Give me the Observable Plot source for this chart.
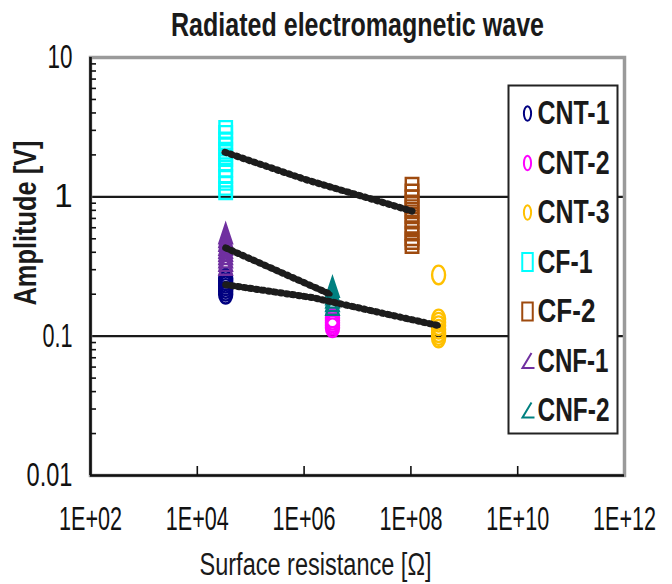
<!DOCTYPE html>
<html>
<head>
<meta charset="utf-8">
<script src="https://cdn.jsdelivr.net/npm/d3@7"></script>
<script src="https://cdn.jsdelivr.net/npm/@observablehq/plot@0.6"></script>
<style>
  html, body { margin: 0; padding: 0; background: white; }
</style>
</head>
<body>
<div id="chart"></div>
<script>
// ---------- data ----------
const seriesNames = ["CNT-1", "CNT-2", "CNT-3", "CF-1", "CF-2", "CNF-1", "CNF-2"];
const seriesColors = ["#000080", "#FF00FF", "#FFC000", "#00FFFF", "#9E4A0E", "#7030A0", "#008080"];
const seriesShapes = ["circle", "circle", "circle", "square", "square", "triangle", "triangle"];
const resistance = [3.4e4, 3.4e6, 3.3e8, 3.4e4, 1.05e8, 3.4e4, 3.4e6];

const cnt1 = [0.26, 0.25, 0.24, 0.23, 0.22, 0.21, 0.20];
const cnt2 = [0.135, 0.13, 0.125, 0.12, 0.115];
const cnt3 = [0.275, 0.133, 0.126, 0.119, 0.112, 0.106, 0.101, 0.097];
const cf1 = [3.15, 2.9, 2.6, 2.4, 2.2, 2.0, 1.85, 1.7, 1.55, 1.4, 1.25, 1.15, 1.07];
const cf2 = [1.23, 1.1, 1.0, 0.92, 0.85, 0.78, 0.72, 0.66, 0.6, 0.55, 0.5, 0.47, 0.44];
const cnf1 = [0.52, 0.49, 0.46, 0.43, 0.41, 0.39, 0.37, 0.35, 0.33, 0.31];
const cnf2 = [0.215, 0.2, 0.19, 0.18, 0.17, 0.16];
const seriesValues = [cnt1, cnt2, cnt3, cf1, cf2, cnf1, cnf2];

// trend lines
const trendCF_x = [3.3e4, 1.07e6, 1.05e8];
const trendCF_y = [2.09, 1.33, 0.79];
const trendCNF_x = [3.4e4, 3.1e6];
const trendCNF_y = [0.43, 0.20];
const trendCNT_x = [3.4e4, 1.45e6, 3.3e8];
const trendCNT_y = [0.234, 0.189, 0.119];

const xTicks = [1e2, 1e4, 1e6, 1e8, 1e10, 1e12];
const yTicks = [0.01, 0.1, 1, 10];
const yTickLabels = ["0.01", "0.1", "1", "10"];
const yMinorTicks = [0.02,0.03,0.04,0.05,0.06,0.07,0.08,0.09,0.2,0.3,0.4,0.5,0.6,0.7,0.8,0.9,2,3,4,5,6,7,8,9];
const gridValues = [0.1, 1];

const titleText = "Radiated electromagnetic wave";
const xTitle = "Surface resistance [\u03A9]";
const yTitle = "Amplitude [V]";

// ---------- tables ----------
const points = seriesNames.flatMap((s, i) =>
  seriesValues[i].map(v => ({series: s, shape: seriesShapes[i], r: resistance[i], v})));
const trends = [
  ...trendCF_x.map((x, i) => ({g: "CF", x, y: trendCF_y[i]})),
  ...trendCNF_x.map((x, i) => ({g: "CNF", x, y: trendCNF_y[i]})),
  ...trendCNT_x.map((x, i) => ({g: "CNT", x, y: trendCNT_y[i]}))
];

// ---------- symbols ----------
function ellipseSym(rx, ry) {
  const k = 0.5523;
  return {draw(c) {
    c.moveTo(rx, 0);
    c.bezierCurveTo(rx, ry * k, rx * k, ry, 0, ry);
    c.bezierCurveTo(-rx * k, ry, -rx, ry * k, -rx, 0);
    c.bezierCurveTo(-rx, -ry * k, -rx * k, -ry, 0, -ry);
    c.bezierCurveTo(rx * k, -ry, rx, -ry * k, rx, 0);
    c.closePath();
  }};
}
function rectSym(w, h) {
  return {draw(c) { c.rect(-w / 2, -h / 2, w, h); }};
}
function triSym(hw, top, bottom) {
  return {draw(c) { c.moveTo(0, top); c.lineTo(hw, bottom); c.lineTo(-hw, bottom); c.closePath(); }};
}
const legendTri = {draw(c) { c.moveTo(4, -8); c.lineTo(-5, 7); c.lineTo(7, 7); }};

const dataSymbols = {circle: ellipseSym(6.5, 9.3), square: rectSym(12.5, 12.5), triangle: triSym(6.3, -12, 7)};
const legendSymbols = {circle: ellipseSym(3.6, 7.2), square: rectSym(10.5, 18), triangle: legendTri};

const FONT = "'Liberation Sans', 'DejaVu Sans', Arial, sans-serif";

// ---------- marks ----------
const marks = [
  Plot.ruleY(gridValues, {stroke: "#1a1a1a", strokeWidth: 2.2}),
  Plot.frame({stroke: "#9a9a9a", strokeWidth: 3.5}),
  Plot.ruleX([1e2], {stroke: "#111", strokeWidth: 2.6}),
  Plot.ruleY([0.01], {stroke: "#111", strokeWidth: 2.6}),
  Plot.axisY({ticks: yMinorTicks, tickSize: -6, text: null, strokeWidth: 1.6, stroke: "#111"}),
  Plot.axisX({ticks: xTicks.slice(1, -1), tickSize: -9, text: null, strokeWidth: 1.6, stroke: "#111"}),
  Plot.axisX({ticks: xTicks, tickSize: 0, tickPadding: 31,
    tickFormat: d => "1E+" + String(Math.round(Math.log10(d))).padStart(2, "0"),
    fontSize: 33, fill: "#111"}),
  Plot.axisY({ticks: yTicks, tickSize: 0, tickPadding: 18,
    tickFormat: d => yTickLabels[yTicks.indexOf(d)], fontSize: 33, fill: "#111"})
];

for (const shape of ["circle", "square", "triangle"]) {
  marks.push(Plot.dot(points.filter(d => d.shape === shape), {
    x: "r", y: "v", stroke: "series", symbol: dataSymbols[shape], strokeWidth: 2.4, fill: "none"
  }));
}

marks.push(
  Plot.line(trends, {x: "x", y: "y", z: "g", stroke: "#1c1c1c", strokeWidth: 4.6, strokeLinecap: "round"}),
  Plot.line(trends, {x: "x", y: "y", z: "g", stroke: "#1c1c1c", strokeWidth: 7, strokeDasharray: "1.6,4.5"})
);

// legend
marks.push(Plot.dot([0], {frameAnchor: "top-left", dx: 472.5, dy: 202, symbol: rectSym(109, 348),
  stroke: "#222", strokeWidth: 2, fill: "white"}));
seriesNames.forEach((s, i) => {
  marks.push(Plot.dot([s], {frameAnchor: "top-left", dx: 437, dy: 56 + 49.5 * i,
    symbol: legendSymbols[seriesShapes[i]], stroke: seriesColors[i], strokeWidth: 2, fill: "none"}));
  marks.push(Plot.text([s], {frameAnchor: "top-left", dx: 447, dy: 56 + 49.5 * i, text: d => d,
    textAnchor: "start", lineAnchor: "middle", fontSize: 34, fontWeight: "bold", fill: "#1a1a1a"}));
});

// titles
marks.push(
  Plot.text([titleText], {frameAnchor: "top", dy: -32, text: d => d, fontSize: 33, fontWeight: "bold",
    textAnchor: "middle", lineAnchor: "middle", fill: "#1a1a1a"}),
  Plot.text([yTitle], {frameAnchor: "left", dx: -65, dy: 39, rotate: -90, text: d => d, fontSize: 32,
    fontWeight: "bold", textAnchor: "start", lineAnchor: "middle", fill: "#1a1a1a"}),
  Plot.text([xTitle], {frameAnchor: "bottom", dx: -42, dy: 90, text: d => d, fontSize: 31,
    textAnchor: "middle", lineAnchor: "middle", fill: "#1a1a1a"})
);

const chart = Plot.plot({
  width: 672, height: 584,
  marginLeft: 90, marginRight: 48, marginTop: 57, marginBottom: 109,
  x: {type: "log", domain: [1e2, 1e12]},
  y: {type: "log", domain: [0.01, 10]},
  color: {domain: seriesNames, range: seriesColors},
  style: {fontFamily: FONT, background: "white", overflow: "visible"},
  marks
});

// text widths (condensed glyphs like the original)
const textWidths = {
  "Radiated electromagnetic wave": 373,
  "Amplitude [V]": 165,
  "Surface resistance [\u03A9]": 232,
  "CNT-1": 72, "CNT-2": 72, "CNT-3": 72, "CF-1": 55, "CF-2": 58, "CNF-1": 71, "CNF-2": 72,
  "1E+02": 63, "1E+04": 63, "1E+06": 63, "1E+08": 63, "1E+10": 63, "1E+12": 63,
  "10": 25, "0.1": 30, "0.01": 46
};
d3.select(chart).selectAll("text").each(function() {
  const w = textWidths[this.textContent];
  if (w) { this.setAttribute("textLength", w); this.setAttribute("lengthAdjust", "spacingAndGlyphs"); }
});

document.getElementById("chart").appendChild(chart);
</script>
</body>
</html>
